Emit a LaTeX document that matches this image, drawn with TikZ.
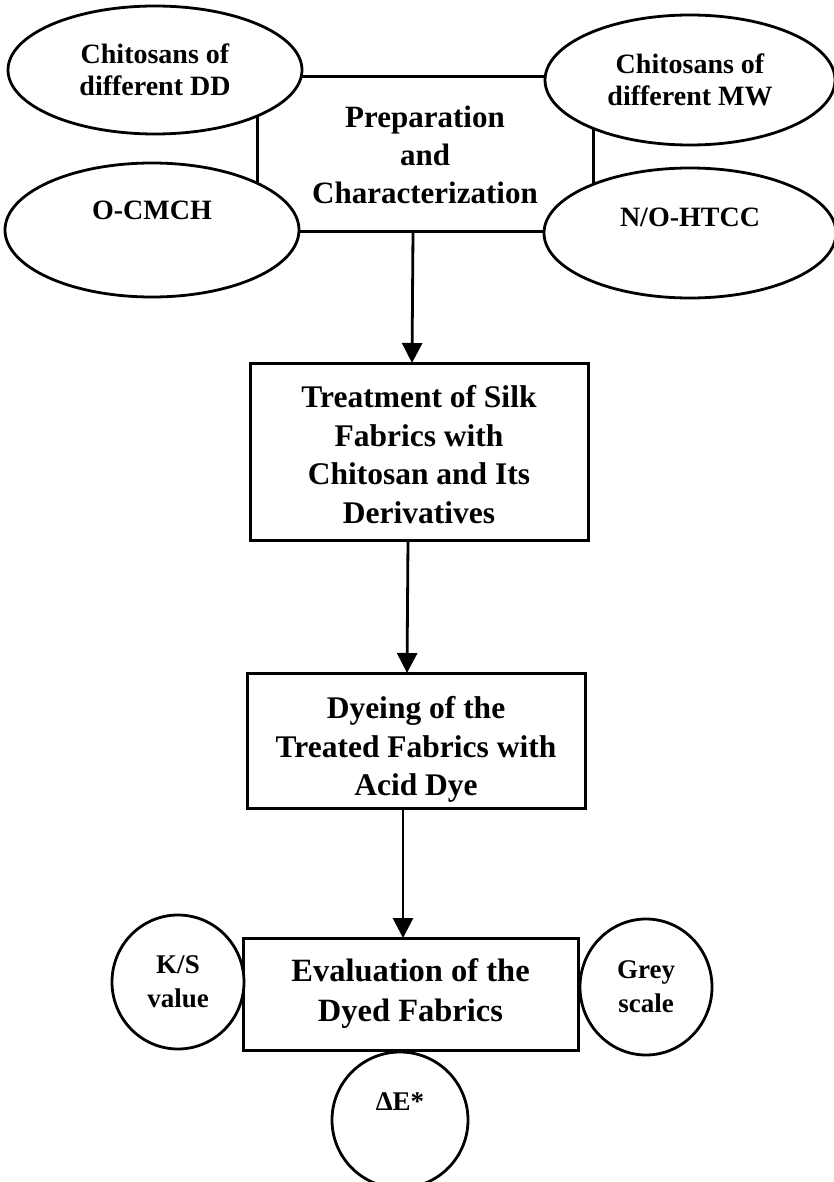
\documentclass[tikz,border=0pt]{standalone}
\usepackage{fontspec}
\setmainfont{Liberation Serif}
\usetikzlibrary{shapes.geometric,arrows.meta}
\begin{document}
\begin{tikzpicture}[x=1pt,y=-1pt,
  every node/.style={inner sep=0pt, outer sep=0pt},
  oval/.style={ellipse, draw, line width=2.8pt, fill=white},
  stepbox/.style={rectangle, draw, line width=3pt, align=center, font=\fontsize{31.5}{38.5}\selectfont\bfseries},
  etext/.style={font=\fontsize{28}{32}\selectfont\bfseries, align=center},
  ctext/.style={font=\fontsize{27}{34}\selectfont\bfseries, align=center},
  arr/.style={line width=2.8pt, -{Triangle[width=20pt,length=20pt]}}
]
\useasboundingbox (0,0) rectangle (833,1182);

% central preparation box (corners hidden by the ellipses)
\node[stepbox, minimum width=336pt, minimum height=155pt, font=\fontsize{31}{38}\selectfont\bfseries] (prep) at (425,154.5) {Preparation\\and\\Characterization};

% ellipses around it
\node[oval, etext, minimum width=294pt, minimum height=128pt] (dd) at (155,70) {Chitosans of\\different DD};
\node[oval, minimum width=294pt, minimum height=134pt, label={[etext,yshift=20pt]center:O-CMCH}] (ocmch) at (152,230) {};
\node[oval, etext, minimum width=290pt, minimum height=130pt] (mw) at (690,80) {Chitosans of\\different MW};
\node[oval, minimum width=292pt, minimum height=130pt, label={[etext,yshift=16pt]center:N/O-HTCC}] (htcc) at (690,233) {};

% process boxes
\node[stepbox, minimum width=338pt, minimum height=177pt] (treat) at (419,451.5) {\rule{0pt}{28pt}Treatment of Silk\\Fabrics with\\Chitosan and Its\\Derivatives};
\node[stepbox, minimum width=338pt, minimum height=135pt] (dye) at (416,740.5) {\rule{0pt}{40pt}Dyeing of the\\Treated Fabrics with\\Acid Dye};
\node[stepbox, minimum width=335pt, minimum height=112pt, font=\fontsize{32.5}{40}\selectfont\bfseries] (eval) at (410.5,994) {Evaluation of the\\Dyed Fabrics};

% evaluation circles
\node[oval, ctext, minimum width=132pt, minimum height=134pt] (ks) at (178,982) {K/S\\value};
\node[oval, ctext, minimum width=132pt, minimum height=136pt] (grey) at (646,987) {Grey\\scale};
\node[oval, minimum width=136pt, minimum height=136pt, label={[ctext,yshift=18pt]center:ΔE*}] (de) at (400,1120) {};

% arrows
\draw[arr] ([xshift=-12pt]prep.south) -- ([xshift=-7pt]treat.north);
\draw[arr] ([xshift=-11pt]treat.south) -- ([xshift=-9pt]dye.north);
\draw[arr] ([xshift=-13pt]dye.south) -- ([xshift=-7.5pt]eval.north);
\end{tikzpicture}
\end{document}
